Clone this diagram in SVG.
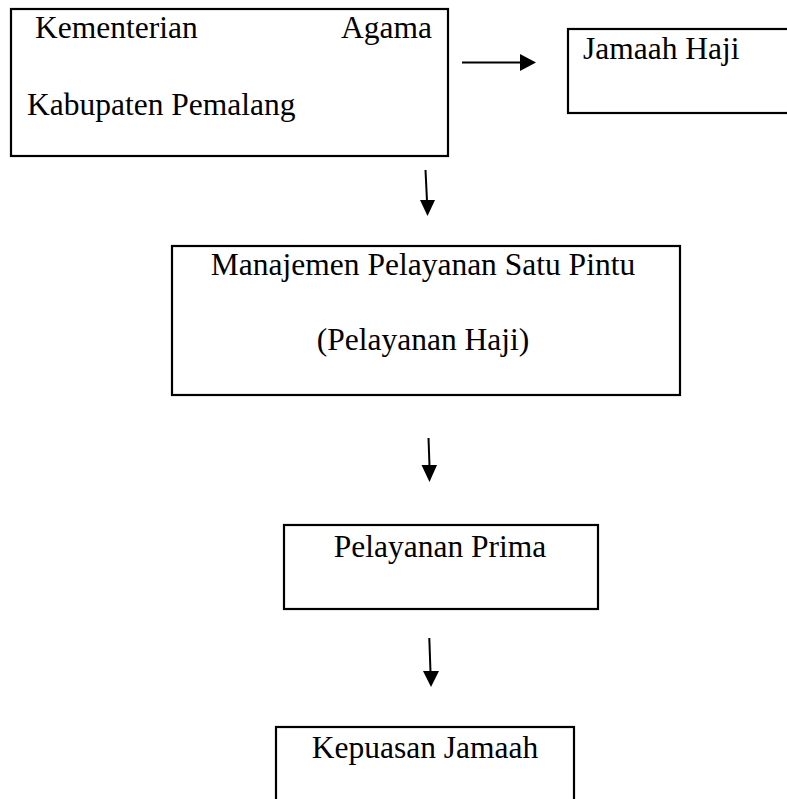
<svg xmlns="http://www.w3.org/2000/svg" width="787" height="799" viewBox="0 0 787 799">
<style>
.box{fill:#fff;stroke:#000;stroke-width:2.2}
.t{font-family:"Liberation Serif","Times New Roman",serif;font-size:31.5px;fill:#000}
.c{stroke:#000;stroke-width:2;fill:none}
</style>
<defs>
<marker id="ah" markerWidth="8" markerHeight="8" refX="7.5" refY="4" orient="auto" markerUnits="userSpaceOnUse" viewBox="0 0 8 8">
<path d="M0,0 L8,4 L0,8 Z" fill="#000"/>
</marker>
</defs>
<rect width="787" height="799" fill="#fff"/>
<g id="kemenag">
<rect class="box" x="11" y="9" width="437" height="147"/>
<text class="t" x="35" y="38">Kementerian</text>
<text class="t" x="432" y="38" text-anchor="end">Agama</text>
<text class="t" x="27" y="115">Kabupaten Pemalang</text>
</g>
<g id="jamaah-haji">
<rect class="box" x="568" y="29" width="230" height="84"/>
<text class="t" x="583" y="59">Jamaah Haji</text>
</g>
<g id="manajemen">
<rect class="box" x="172" y="246" width="508" height="149"/>
<text class="t" x="423" y="275" text-anchor="middle">Manajemen Pelayanan Satu Pintu</text>
<text class="t" x="423" y="350" text-anchor="middle">(Pelayanan Haji)</text>
</g>
<g id="prima">
<rect class="box" x="284" y="525" width="314" height="84"/>
<text class="t" x="440" y="557" text-anchor="middle">Pelayanan Prima</text>
</g>
<g id="kepuasan">
<rect class="box" x="276" y="727" width="298" height="90"/>
<text class="t" x="425" y="758" text-anchor="middle">Kepuasan Jamaah</text>
</g>
<g id="connectors">
<path d="M462,62.5 L520,62.5" class="c"/>
<path d="M520,54 L536,62.5 L520,71 Z" fill="#000"/>
<path d="M425.5,170 L427,201" class="c"/>
<path d="M420,200 L427.5,216 L435,200 Z" fill="#000"/>
<path d="M428.5,438 L429.5,466" class="c"/>
<path d="M421.5,465 L429.5,482 L437,465 Z" fill="#000"/>
<path d="M429.3,638 L430.5,672" class="c"/>
<path d="M423,671 L431,687 L439,671 Z" fill="#000"/>
</g>
</svg>
